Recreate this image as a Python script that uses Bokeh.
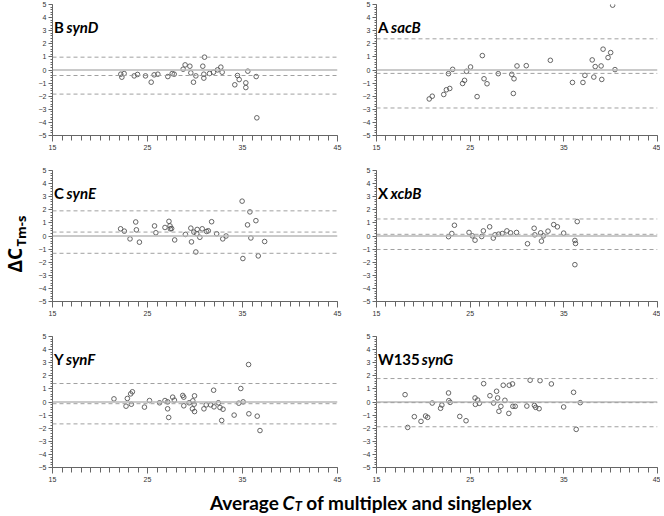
import math
from bokeh.plotting import figure
from bokeh.layouts import row, column
from bokeh.models import FixedTicker, Span, Range1d
from bokeh.core.properties import value
from bokeh.embed import file_html
from bokeh.resources import INLINE

# ---------------- data ----------------
panel_prefix = ["B", "A", "C", "X", "Y", "W135"]
panel_gene = ["synD", "sacB", "synE", "xcbB", "synF", "synG"]

synD_x = [22.19, 22.30, 22.54, 23.60, 23.95, 24.79, 25.39, 25.70, 26.09, 27.14,
          27.60, 27.81, 28.75, 28.96, 29.46, 29.56, 29.84, 30.09, 30.82, 31.00,
          30.93, 30.93, 31.53, 31.95, 32.37, 32.72, 32.86, 34.19, 34.47, 34.65,
          35.35, 35.35, 35.56, 36.44, 36.51]
synD_y = [-0.32, -0.55, -0.27, -0.45, -0.34, -0.45, -0.93, -0.37, -0.32, -0.50,
          -0.27, -0.32, 0.06, 0.39, 0.29, -0.22, -0.93, -0.45, 0.29, 0.98,
          -0.32, -0.62, -0.27, -0.17, 0.01, 0.22, -0.17, -1.13, -0.42, -0.73,
          -0.98, -1.34, -0.09, -0.50, -3.65]

sacB_x = [20.63, 20.95, 22.18, 22.46, 22.82, 22.68, 23.13, 24.19, 24.40, 24.61,
          25.04, 25.74, 26.30, 26.48, 26.80, 28.00, 29.44, 29.68, 29.61, 30.00,
          30.99, 33.56, 35.92, 37.04, 37.25, 38.03, 38.20, 38.35, 38.98, 39.05,
          39.19, 39.72, 40.00, 40.21, 40.46]
sacB_y = [-2.21, -2.00, -1.87, -1.51, -1.41, -0.28, 0.05, -1.03, -0.79, -0.10,
          0.23, -2.03, 1.10, -0.67, -1.05, -0.28, -0.33, -0.67, -1.79, 0.31,
          0.33, 0.74, -0.95, -0.95, -0.41, 0.77, -0.54, 0.26, 0.31, -0.72,
          1.59, 0.95, 1.33, 4.95, 0.03]

synE_x = [22.17, 22.56, 23.16, 23.76, 23.83, 24.15, 25.74, 25.88, 26.84, 27.26,
          27.37, 27.40, 27.54, 27.86, 28.99, 29.56, 29.63, 29.88, 30.09, 30.19,
          30.23, 30.51, 30.76, 31.22, 31.40, 31.75, 32.28, 32.92, 33.27, 34.96,
          35.04, 35.53, 35.78, 35.88, 36.41, 36.66, 37.33]
synE_y = [0.55, 0.37, -0.22, 1.07, 0.47, -0.47, 0.77, 0.25, 0.65, 1.12,
          0.77, 0.55, 0.57, -0.30, 0.12, 0.60, -0.45, 0.30, -1.22, 0.17,
          0.50, -0.10, 0.55, 0.35, 0.40, 1.09, 0.17, -0.22, 0.00, 2.66,
          -1.72, 0.85, 1.84, -0.15, 1.17, -1.52, -0.42]

xcbB_x = [22.69, 23.04, 23.32, 24.88, 25.24, 25.52, 26.23, 26.41, 27.08, 27.47,
          27.65, 28.04, 28.43, 28.92, 29.31, 29.95, 31.12, 31.83, 31.90, 32.53,
          32.61, 32.82, 33.31, 33.92, 34.31, 34.98, 36.18, 36.25, 36.18, 36.43]
xcbB_y = [-0.05, 0.19, 0.82, 0.27, 0.01, -0.32, -0.04, 0.39, 0.70, -0.16,
          0.09, 0.14, 0.19, 0.39, 0.24, 0.27, -0.59, 0.59, 0.09, 0.24,
          -0.39, 0.01, 0.37, 0.87, 0.70, 0.22, -0.34, -0.57, -2.19, 1.10]

synF_x = [21.47, 22.74, 22.88, 23.23, 23.30, 23.41, 24.68, 25.21, 26.27, 26.84,
          27.12, 27.12, 27.23, 27.65, 27.83, 28.71, 28.82, 28.82, 29.38, 29.73,
          29.77, 29.91, 29.95, 29.95, 30.94, 31.18, 31.64, 31.96, 32.00, 32.46,
          32.63, 32.81, 32.95, 34.12, 34.61, 34.82, 35.07, 35.64, 35.67, 36.55,
          36.84]
synF_y = [0.24, -0.32, 0.27, 0.62, -0.17, 0.78, -0.39, 0.11, -0.06, 0.11,
          0.01, -0.52, -1.18, 0.37, 0.14, 0.50, 0.37, -0.29, -0.06, -0.52,
          0.09, -0.17, 0.47, -0.73, -0.52, -0.22, -0.22, 0.90, -0.37, -0.06,
          -0.42, -1.41, -0.55, -1.00, -0.09, 1.03, 0.01, 2.86, -0.90, -1.08,
          -2.18]

synG_x = [18.05, 18.33, 19.04, 19.75, 20.24, 20.46, 20.95, 21.84, 21.98, 22.69,
          22.72, 22.86, 23.89, 24.56, 25.52, 25.56, 25.80, 25.98, 26.44, 27.11,
          27.50, 27.82, 27.93, 28.07, 28.28, 28.53, 28.71, 29.13, 29.17, 29.52,
          29.56, 29.81, 31.05, 31.40, 31.86, 32.00, 32.36, 32.46, 33.67, 34.98,
          36.04, 36.32, 36.75]
synG_y = [0.56, -1.94, -1.12, -1.48, -1.07, -1.17, -0.08, -0.48, -0.23, 0.69,
          0.10, -0.03, -1.10, -1.43, 0.31, -0.18, 0.15, -0.10, 1.40, 0.48,
          -0.08, 0.82, 0.31, -0.71, -0.33, 1.28, 0.13, -0.87, 1.28, 1.38,
          -0.33, -0.33, -0.31, 1.66, -0.26, -0.41, -0.51, 1.63, 1.38, -0.38,
          0.74, -2.09, -0.05]

mean_diff = [-0.42, -0.26, 0.30, 0.13, -0.13, -0.05]
upper_limit = [0.98, 2.38, 1.92, 1.30, 1.41, 1.79]
lower_limit = [-1.84, -2.90, -1.32, -1.03, -1.67, -1.89]

x_ticks = [15, 25, 35, 45]
y_ticks = [-5, -4, -3, -2, -1, 0, 1, 2, 3, 4, 5]

series_x = [synD_x, sacB_x, synE_x, xcbB_x, synF_x, synG_x]
series_y = [synD_y, sacB_y, synE_y, xcbB_y, synF_y, synG_y]

# ---------------- styling ----------------
LABEL_FONT = "Lato"
TICK_FONT = "Liberation Sans"
AXIS_COLOR = "#666666"
# approximate Lato Bold advance widths (em)
EM = {"A": 0.683, "B": 0.646, "C": 0.65, "X": 0.65, "Y": 0.613, "W": 0.995,
      "1": 0.58, "3": 0.58, "5": 0.58, " ": 0.193}


def text_w(s, size):
    return sum(EM.get(ch, 0.55) for ch in s) * size


ROW_TOP = [4, 16, 16]
FRAME_H = 131
BOTTOM = 19


def make_panel(i):
    col = i % 2
    r = i // 2
    left = 22 if col == 0 else 34
    right = 5 if col == 0 else 3
    fw = 285 if col == 0 else 281
    h = ROW_TOP[r] + FRAME_H + BOTTOM
    p = figure(width=left + fw + right, height=h,
               x_range=Range1d(15, 45), y_range=Range1d(-5, 5),
               min_border_left=left, min_border_right=right,
               min_border_top=ROW_TOP[r], min_border_bottom=BOTTOM,
               toolbar_location=None, output_backend="svg", title=None,
               outline_line_color=None)
    p.xgrid.grid_line_color = None
    p.ygrid.grid_line_color = None

    for ax in (p.xaxis[0], p.yaxis[0]):
        ax.axis_line_color = AXIS_COLOR
        ax.major_tick_line_color = AXIS_COLOR
        ax.minor_tick_line_color = AXIS_COLOR
        ax.major_tick_in = 0
        ax.minor_tick_in = 0
        ax.major_label_text_font = TICK_FONT
        ax.major_label_text_font_size = "7px"
        ax.major_label_text_color = "#333333"

    p.xaxis.ticker = FixedTicker(ticks=x_ticks, minor_ticks=list(range(15, 46)))
    p.xaxis.major_tick_out = 6
    p.xaxis.minor_tick_out = 5
    p.xaxis.major_label_standoff = 3

    p.yaxis.ticker = FixedTicker(ticks=y_ticks,
                                 minor_ticks=[k / 5 for k in range(-25, 26)])
    p.yaxis.major_tick_out = 4
    p.yaxis.minor_tick_out = 2
    p.yaxis.major_label_standoff = 2
    p.yaxis.major_label_overrides = {t: ("\u2212%d" % -t if t < 0 else str(t))
                                     for t in y_ticks}

    p.add_layout(Span(location=0, dimension="width", line_color="#b8b8b8",
                      line_width=1.3))
    for loc in (mean_diff[i], upper_limit[i], lower_limit[i]):
        p.add_layout(Span(location=loc, dimension="width", line_color="#a0a0a0",
                          line_width=1, line_dash="4 3"))

    p.scatter(series_x[i], series_y[i], marker="circle", size=4.6,
              fill_color=None, line_color="#555555", line_width=0.9)

    p.text(x=[15.15], y=[3.3], text=[panel_prefix[i]],
           text_font=value(LABEL_FONT), text_font_style="bold",
           text_font_size="15px", text_baseline="alphabetic",
           text_align="left", text_color="#000000")
    p.text(x=[15.15], y=[3.3], text=[panel_gene[i]],
           x_offset=text_w(panel_prefix[i] + " ", 15),
           text_font=value(LABEL_FONT), text_font_style="bold italic",
           text_font_size="15px", text_baseline="alphabetic",
           text_align="left", text_color="#000000")
    return p


panels = [make_panel(i) for i in range(6)]
grid_h = sum(ROW_TOP) + 3 * (FRAME_H + BOTTOM)

# y-axis title figure (data units == pixels)
YW = 30
yl = figure(width=YW, height=grid_h, x_range=Range1d(0, YW),
            y_range=Range1d(0, grid_h), x_axis_type=None, y_axis_type=None,
            min_border=0, outline_line_color=None, toolbar_location=None,
            output_backend="svg", title=None)
yl.text(x=[14], y=[grid_h - 272], text=["\u0394C"], angle=math.pi / 2,
        text_font=value("Open Sans"), text_font_style="bold",
        text_font_size="19px", text_align="left", text_baseline="alphabetic",
        text_color="#000000")
yl.text(x=[20], y=[grid_h - 246], text=["Tm-s"], angle=math.pi / 2,
        text_font=value("Open Sans"), text_font_style="bold",
        text_font_size="13px", text_align="left", text_baseline="alphabetic",
        text_color="#000000")

# x-axis title figure (data units == pixels)
XW = YW + 312 + 318
XH = 28
xl = figure(width=XW, height=XH, x_range=Range1d(0, XW), y_range=Range1d(0, XH),
            x_axis_type=None, y_axis_type=None, min_border=0,
            outline_line_color=None, toolbar_location=None,
            output_backend="svg", title=None)
cx = 282
fs = 19
base = 12
xl.text(x=[cx - text_w(" ", fs)], y=[base], text=["Average"],
        text_font=value(LABEL_FONT), text_font_style="bold",
        text_font_size="%dpx" % fs, text_align="right",
        text_baseline="alphabetic", text_color="#000000")
xl.text(x=[cx], y=[base], text=["C"],
        text_font=value(LABEL_FONT), text_font_style="bold italic",
        text_font_size="%dpx" % fs, text_align="left",
        text_baseline="alphabetic", text_color="#000000")
cw = 0.65 * fs
xl.text(x=[cx + cw], y=[base - 3], text=["T"],
        text_font=value(LABEL_FONT), text_font_style="bold italic",
        text_font_size="13px", text_align="left",
        text_baseline="alphabetic", text_color="#000000")
tw = 0.6 * 13
xl.text(x=[cx + cw + tw + text_w(" ", fs)], y=[base],
        text=["of multiplex and singleplex"],
        text_font=value(LABEL_FONT), text_font_style="bold",
        text_font_size="%dpx" % fs, text_align="left",
        text_baseline="alphabetic", text_color="#000000")

grid = column(row(panels[0], panels[1]), row(panels[2], panels[3]),
              row(panels[4], panels[5]))
layout = column(row(yl, grid), xl)

open("out.html", "w").write(file_html(layout, INLINE))
